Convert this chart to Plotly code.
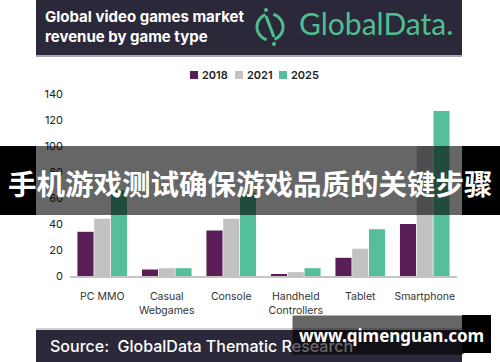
import plotly.graph_objects as go
import numpy as np

categories = ["PC MMO", "Casual<br>Webgames", "Console", "Handheld<br>Controllers", "Tablet", "Smartphone"]
years = ["2018", "2021", "2025"]
values_2018 = [34, 5, 35, 1, 14, 40]
values_2021 = [44, 6, 44, 3, 21, 100]
values_2025 = [66, 6, 64, 6, 36, 127]
y_ticks = [0, 20, 40, 60, 80, 100, 120, 140]

colors = {"2018": "#5a1e56", "2021": "#c2c2c2", "2025": "#54bf98"}
series = {"2018": values_2018, "2021": values_2021, "2025": values_2025}

W, H = 500, 362
def px(x):
    return x / W
def py(y):
    return 1 - y / H

fig = go.Figure()
for yr in years:
    fig.add_trace(go.Bar(x=categories, y=series[yr], name=yr, showlegend=False,
                         marker=dict(color=colors[yr], line=dict(width=0))))

FONT = "Inter, Roboto, sans-serif"
HEADER = "#2b2839"
GREEN = "#4dbf8f"

shapes = []
annotations = []
# header band
shapes.append(dict(type="rect", xref="paper", yref="paper", x0=px(36), x1=px(462), y0=py(55), y1=py(0),
                   fillcolor=HEADER, line=dict(width=0), layer="below"))
shapes.append(dict(type="rect", xref="paper", yref="paper", x0=px(36), x1=px(462), y0=py(57), y1=py(55),
                   fillcolor="#a9a7b3", line=dict(width=0), layer="below"))
# footer band
shapes.append(dict(type="rect", xref="paper", yref="paper", x0=px(36), x1=px(462), y0=py(330), y1=py(328),
                   fillcolor="#d0d0d4", line=dict(width=0), layer="below"))
shapes.append(dict(type="rect", xref="paper", yref="paper", x0=px(36), x1=px(462), y0=py(362), y1=py(330),
                   fillcolor=HEADER, line=dict(width=0), layer="below"))

# logo icon
cx, cy, r = 270, 27, 13
def arc(a0, a1, n=30):
    t = np.radians(np.linspace(a0, a1, n))
    pts = [(cx + r * np.cos(a), cy - r * np.sin(a)) for a in t]
    return "M " + " L ".join(f"{px(x):.5f},{py(y):.5f}" for x, y in pts)
shapes.append(dict(type="path", xref="paper", yref="paper", path=arc(110, 255), line=dict(color=GREEN, width=3)))
shapes.append(dict(type="path", xref="paper", yref="paper", path=arc(-70, 75), line=dict(color=GREEN, width=3)))
shapes.append(dict(type="line", xref="paper", yref="paper", x0=px(266), y0=py(16), x1=px(274), y1=py(37),
                   line=dict(color=GREEN, width=3)))
for (dx, dy) in [(266, 10), (274, 44)]:
    shapes.append(dict(type="circle", xref="paper", yref="paper", x0=px(dx - 2), x1=px(dx + 2),
                       y0=py(dy + 2), y1=py(dy - 2), fillcolor=GREEN, line=dict(width=0)))

# manual legend
leg_x = {"2018": 190, "2021": 235, "2025": 279}
for yr in years:
    x0 = leg_x[yr]
    shapes.append(dict(type="rect", xref="paper", yref="paper", x0=px(x0), x1=px(x0 + 8),
                       y0=py(79), y1=py(71), fillcolor=colors[yr], line=dict(width=0)))
    annotations.append(dict(text=yr, xref="paper", yref="paper", x=px(x0 + 10), y=py(75),
                            xanchor="left", yanchor="middle", showarrow=False,
                            font=dict(family=FONT, size=11, color="#222", weight=600)))

# watermark band over middle
shapes.append(dict(type="rect", xref="paper", yref="paper", x0=0, x1=px(36), y0=py(215), y1=py(146),
                   fillcolor="black", line=dict(width=0), layer="above"))
shapes.append(dict(type="rect", xref="paper", yref="paper", x0=px(462), x1=1, y0=py(215), y1=py(146),
                   fillcolor="black", line=dict(width=0), layer="above"))
shapes.append(dict(type="rect", xref="paper", yref="paper", x0=px(36), x1=px(462), y0=py(215), y1=py(146),
                   fillcolor="rgba(0,0,0,0.6)", line=dict(width=0), layer="above"))
# bottom right watermark box (black part)
shapes.append(dict(type="rect", xref="paper", yref="paper", x0=px(462), x1=px(491), y0=py(353), y1=py(315),
                   fillcolor="black", line=dict(width=0), layer="above"))

annotations += [
    dict(text="<b>Global video games market<br>revenue by game type</b>", xref="paper", yref="paper",
         x=px(43), y=py(27), xanchor="left", yanchor="middle", align="left", showarrow=False,
         font=dict(family=FONT, size=15, color="white")),
    dict(text="GlobalData.", xref="paper", yref="paper", x=px(297), y=py(23), xanchor="left", yanchor="middle",
         showarrow=False, font=dict(family="Lato, sans-serif", size=30, color=GREEN)),
    dict(text="Source:  GlobalData Thematic Research", xref="paper", yref="paper", x=px(48), y=py(346),
         xanchor="left", yanchor="middle", showarrow=False,
         font=dict(family=FONT, size=16, color="white", weight=500)),
    # semi-transparent watermark box covering source text
    dict(text=" ", xref="paper", yref="paper", x=px(292), y=py(315), xanchor="left", yanchor="top",
         width=170, height=38, bgcolor="rgba(0,0,0,0.6)", borderpad=0, showarrow=False),
    dict(text="<b>www.qimenguan.com</b>", xref="paper", yref="paper", x=px(391), y=py(335),
         xanchor="center", yanchor="middle", showarrow=False,
         font=dict(family="Noto Sans, DejaVu Sans, sans-serif", size=17, color="white")),
    dict(text="<b>手机游戏测试确保游戏品质的关键步骤</b>", xref="paper", yref="paper", x=0.5, y=py(182),
         xanchor="center", yanchor="middle", showarrow=False,
         font=dict(family="Noto Sans CJK SC", size=28.5, color="white")),
]

fig.update_layout(
    width=W, height=H,
    margin=dict(l=0, r=0, t=0, b=0, autoexpand=False),
    paper_bgcolor="white", plot_bgcolor="white",
    barmode="group", bargap=0.22, bargroupgap=0.04,
    showlegend=False,
    xaxis=dict(domain=[px(70), px(457)], showline=True, linecolor="#c4c4c4", linewidth=1.5,
               ticks="", showgrid=False, tickfont=dict(family=FONT, size=10.5, color="#333"),
               ticklabelstandoff=10, automargin=False),
    yaxis=dict(domain=[py(276), py(94)], range=[0, 140], tickvals=y_ticks, showgrid=False,
               zeroline=False, showline=False, ticks="", automargin=False,
               tickfont=dict(family=FONT, size=11, color="#222"), ticklabelstandoff=6),
    shapes=shapes, annotations=annotations,
)

fig.write_html("out.html", config={"displayModeBar": False},
               post_script="document.body.style.margin='0px';document.body.style.overflow='hidden';")
